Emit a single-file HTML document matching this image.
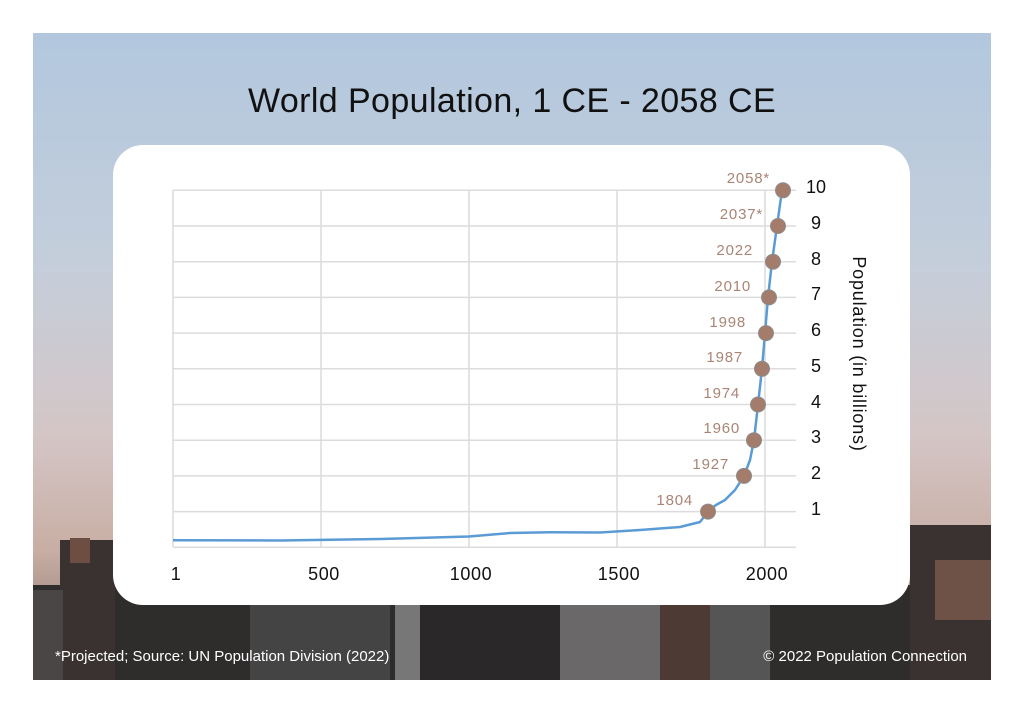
<!DOCTYPE html>
<html><head><meta charset="utf-8"><style>
html,body{margin:0;padding:0;background:#fff;}
body{width:1024px;height:712px;position:relative;overflow:hidden;font-family:"Liberation Sans","DejaVu Sans",sans-serif;}
</style></head><body>
<svg width="1024" height="712" viewBox="0 0 1024 712" xmlns="http://www.w3.org/2000/svg" style="position:absolute;left:0;top:0">
<defs>
<linearGradient id="sky" x1="0" y1="0" x2="0" y2="1">
<stop offset="0" stop-color="#b2c7de"/>
<stop offset="0.35" stop-color="#c4cedb"/>
<stop offset="0.62" stop-color="#d4c6c6"/>
<stop offset="0.8" stop-color="#c8aea4"/>
<stop offset="1" stop-color="#7a6a66"/>
</linearGradient>
</defs>
<rect x="33" y="33" width="958" height="647" fill="url(#sky)"/>
<g fill="#2f2c2c">
<rect x="33" y="585" width="958" height="95"/>
<rect x="60" y="540" width="55" height="140" fill="#3a3230"/>
<rect x="70" y="538" width="20" height="25" fill="#6e4e42"/>
<rect x="33" y="590" width="30" height="90" fill="#4a4646"/>
<rect x="910" y="525" width="81" height="155" fill="#3a3230"/>
<rect x="935" y="560" width="56" height="60" fill="#6e5248"/>
<rect x="250" y="600" width="140" height="80" fill="#444"/>
<rect x="395" y="600" width="25" height="80" fill="#777"/>
<rect x="420" y="600" width="140" height="80" fill="#2a2828"/>
<rect x="560" y="600" width="100" height="80" fill="#6a6868"/>
<rect x="660" y="600" width="50" height="80" fill="#4e3a34"/>
<rect x="710" y="600" width="60" height="80" fill="#555"/>
</g>
<rect x="113" y="145" width="797" height="460" rx="30" fill="#fff"/>
<text x="512" y="112" text-anchor="middle" font-size="34" letter-spacing="0.4" fill="#111">World Population, 1 CE - 2058 CE</text>
<g stroke="#dcdcdc" stroke-width="1.5">
<line x1="173" y1="190" x2="173" y2="547"/><line x1="321" y1="190" x2="321" y2="547"/>
<line x1="469" y1="190" x2="469" y2="547"/><line x1="617" y1="190" x2="617" y2="547"/>
<line x1="765" y1="190" x2="765" y2="547"/>
<line x1="173" y1="190.3" x2="796" y2="190.3"/><line x1="173" y1="226" x2="796" y2="226"/>
<line x1="173" y1="261.7" x2="796" y2="261.7"/><line x1="173" y1="297.4" x2="796" y2="297.4"/>
<line x1="173" y1="333.1" x2="796" y2="333.1"/><line x1="173" y1="368.8" x2="796" y2="368.8"/>
<line x1="173" y1="404.5" x2="796" y2="404.5"/><line x1="173" y1="440.2" x2="796" y2="440.2"/>
<line x1="173" y1="475.9" x2="796" y2="475.9"/><line x1="173" y1="511.6" x2="796" y2="511.6"/>
<line x1="173" y1="547.3" x2="796" y2="547.3"/>
</g>
<polyline fill="none" stroke="#5b9bd5" stroke-width="2.5" stroke-linejoin="round" points="173,540.2 280,540.5 380,539 469,536.5 510,533 550,532.3 600,532.5 640,530 680,527 700,522 708,511.6 716,505 725,500 735,490 744,475.9 750,460 754,440.2 758,404.5 762,368.8 765,333.1 768,297.4 772,261.7 777,226 782,190.3"/>
<g fill="#a47c6b" stroke="#8c8c8c" stroke-width="1">
<circle cx="708" cy="511.6" r="7.5"/><circle cx="744" cy="475.9" r="7.5"/>
<circle cx="754" cy="440.2" r="7.5"/><circle cx="758" cy="404.5" r="7.5"/>
<circle cx="762" cy="368.8" r="7.5"/><circle cx="766" cy="333.1" r="7.5"/>
<circle cx="769" cy="297.4" r="7.5"/><circle cx="773" cy="261.7" r="7.5"/>
<circle cx="778" cy="226" r="7.5"/><circle cx="783" cy="190.3" r="7.5"/>
</g>
<g fill="#a98575" font-size="15" letter-spacing="0.8" text-anchor="end">
<text x="693" y="505">1804</text><text x="729" y="469">1927</text>
<text x="740" y="433">1960</text><text x="740" y="398">1974</text>
<text x="743" y="362">1987</text><text x="746" y="327">1998</text>
<text x="751" y="291">2010</text><text x="753" y="255">2022</text>
<text x="763" y="219">2037*</text><text x="770" y="183">2058*</text>
</g>
<g font-size="18" fill="#111">
<text x="806" y="193">10</text><text x="811" y="229">9</text><text x="811" y="265">8</text>
<text x="811" y="300">7</text><text x="811" y="336">6</text><text x="811" y="372">5</text>
<text x="811" y="408">4</text><text x="811" y="443">3</text><text x="811" y="479">2</text>
<text x="811" y="515">1</text>
</g>
<g font-size="18" letter-spacing="0.6" fill="#111" text-anchor="middle">
<text x="176" y="580">1</text><text x="324" y="580">500</text><text x="471" y="580">1000</text>
<text x="619" y="580">1500</text><text x="767" y="580">2000</text>
</g>
<text transform="translate(853,354) rotate(90)" text-anchor="middle" font-size="18" letter-spacing="0.8" fill="#111">Population (in billions)</text>
<text x="55" y="661" font-size="15" fill="#fff">*Projected; Source: UN Population Division (2022)</text>
<text x="967" y="661" font-size="15" fill="#fff" text-anchor="end">© 2022 Population Connection</text>
</svg>
</body></html>
